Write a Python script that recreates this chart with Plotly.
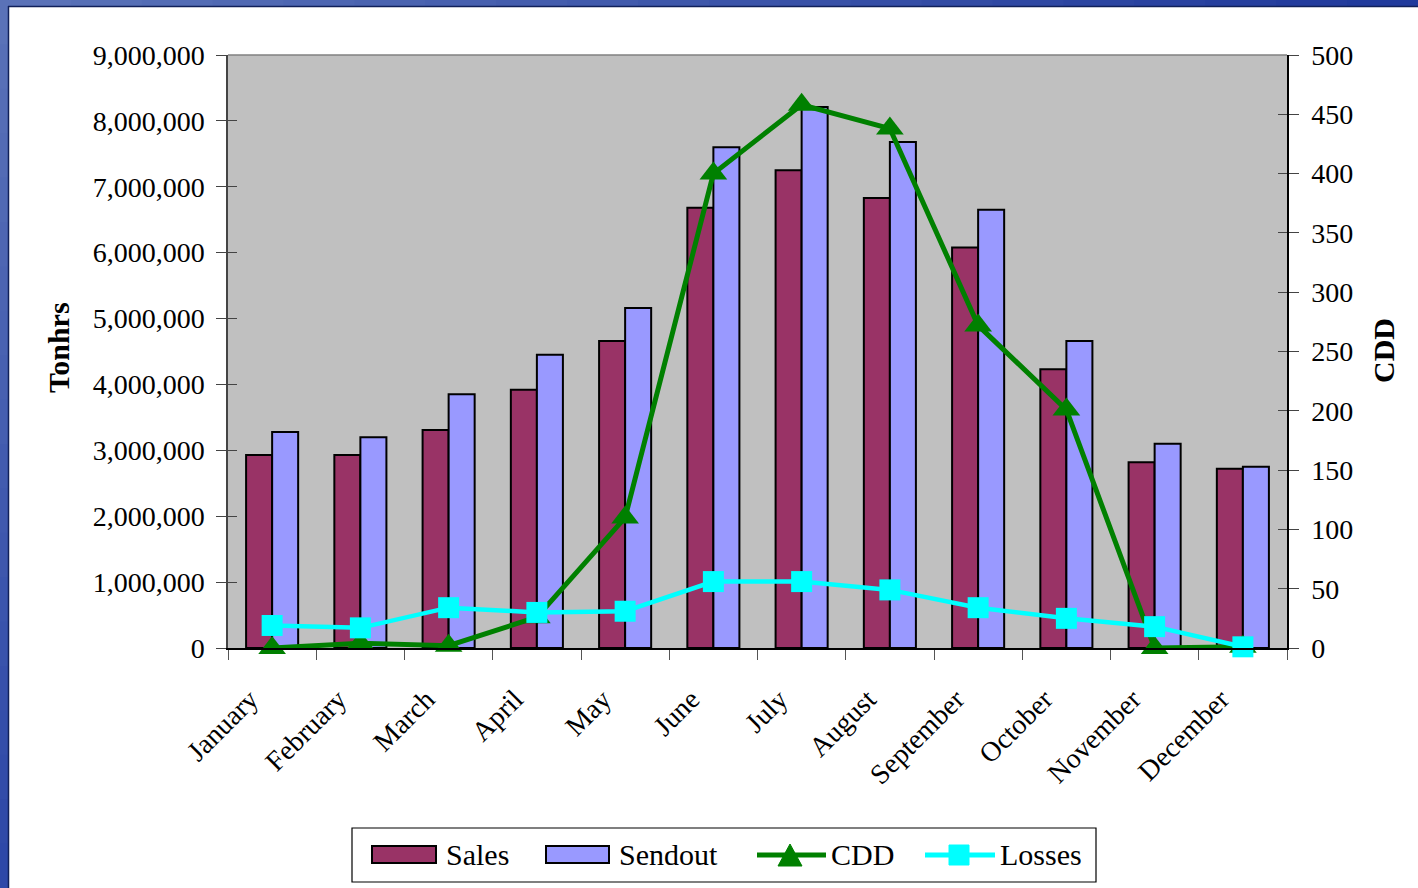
import plotly.graph_objects as go

months = ["January", "February", "March", "April", "May", "June", "July",
          "August", "September", "October", "November", "December"]
sales = [2930000, 2930000, 3310000, 3920000, 4660000, 6680000, 7250000,
         6830000, 6080000, 4230000, 2820000, 2720000]
sendout = [3280000, 3200000, 3850000, 4450000, 5160000, 7600000, 8210000,
           7680000, 6650000, 4660000, 3100000, 2750000]
cdd = [0, 4, 2, 26, 110, 400, 458, 438, 272, 201, 0, 1]
losses = [19, 17, 34, 30, 31, 56, 56, 49, 34, 25, 18, 1]

SALES_C, SEND_C, CDD_C, LOSS_C = "#993366", "#9999ff", "#008000", "#00ffff"

W, H = 1418, 888
L, R, T, B = 228, 1287, 55, 648
pw, ph = R - L, B - T

def px(x):
    return (x - L) / pw

def py(y):
    return (B - y) / ph

FONT = "Liberation Serif, Times New Roman, serif"

fig = go.Figure()
fig.add_trace(go.Bar(x=months, y=sales, name="Sales",
                     marker=dict(color=SALES_C, line=dict(color="black", width=2))))
fig.add_trace(go.Bar(x=months, y=sendout, name="Sendout",
                     marker=dict(color=SEND_C, line=dict(color="black", width=2))))
fig.add_trace(go.Scatter(x=months, y=cdd, name="CDD", yaxis="y2", mode="lines+markers",
                         cliponaxis=False,
                         line=dict(color=CDD_C, width=5),
                         marker=dict(symbol="triangle-up", size=24, color=CDD_C)))
fig.add_trace(go.Scatter(x=months, y=losses, name="Losses", yaxis="y2", mode="lines+markers",
                         cliponaxis=False,
                         line=dict(color=LOSS_C, width=4.5),
                         marker=dict(symbol="square", size=21, color=LOSS_C)))
# empty helper traces so the inner tick axes get drawn
fig.add_trace(go.Scatter(x=[months[0]], y=[None], yaxis="y3", showlegend=False, hoverinfo="skip"))
fig.add_trace(go.Scatter(x=[months[0]], y=[None], yaxis="y4", showlegend=False, hoverinfo="skip"))

shapes = []
n = 20
for i in range(n):
    x0 = i * W / n
    x1 = (i + 1) * W / n + 1
    t = i / (n - 1)
    r = int(0x5a + (0x20 - 0x5a) * t)
    g = int(0x72 + (0x3a - 0x72) * t)
    b = int(0xb8 + (0x9c - 0xb8) * t)
    shapes.append(dict(type="rect", xref="paper", yref="paper",
                       x0=px(x0), x1=px(x1), y0=py(6), y1=py(-2),
                       fillcolor=f"rgb({r},{g},{b})", line=dict(width=0), layer="above"))
for i in range(n):
    y0 = i * H / n
    y1 = (i + 1) * H / n + 1
    t = i / (n - 1)
    r = int(0x5a + (0x2e - 0x5a) * t)
    g = int(0x72 + (0x48 - 0x72) * t)
    b = int(0xb8 + (0xa8 - 0xb8) * t)
    shapes.append(dict(type="rect", xref="paper", yref="paper",
                       x0=px(-2), x1=px(8), y0=py(y1), y1=py(y0),
                       fillcolor=f"rgb({r},{g},{b})", line=dict(width=0), layer="above"))
shapes.append(dict(type="line", xref="paper", yref="paper", x0=px(8), x1=px(W + 2),
                   y0=py(6.5), y1=py(6.5), line=dict(color="#10205a", width=1.5), layer="above"))
shapes.append(dict(type="line", xref="paper", yref="paper", x0=px(8.5), x1=px(8.5),
                   y0=py(6), y1=py(H + 2), line=dict(color="#10205a", width=1.5), layer="above"))
shapes.append(dict(type="line", xref="paper", yref="paper", x0=0, x1=1, y0=1, y1=1,
                   line=dict(color="#808080", width=1.5), layer="above"))

# custom legend
LY = 855
shapes.append(dict(type="rect", xref="paper", yref="paper", x0=px(352), x1=px(1096),
                   y0=py(882), y1=py(828), line=dict(color="black", width=1.2),
                   fillcolor="white"))
shapes.append(dict(type="rect", xref="paper", yref="paper", x0=px(372), x1=px(436),
                   y0=py(863), y1=py(846), fillcolor=SALES_C, line=dict(color="black", width=2)))
shapes.append(dict(type="rect", xref="paper", yref="paper", x0=px(546), x1=px(609),
                   y0=py(863), y1=py(846), fillcolor=SEND_C, line=dict(color="black", width=2)))
shapes.append(dict(type="line", xref="paper", yref="paper", x0=px(757), x1=px(826),
                   y0=py(LY), y1=py(LY), line=dict(color=CDD_C, width=5)))
tri = "M {},{} L {},{} L {},{} Z".format(px(778), py(866), px(802), py(866), px(790), py(844))
shapes.append(dict(type="path", xref="paper", yref="paper", path=tri,
                   fillcolor=CDD_C, line=dict(color=CDD_C, width=1)))
shapes.append(dict(type="line", xref="paper", yref="paper", x0=px(925), x1=px(995),
                   y0=py(LY), y1=py(LY), line=dict(color=LOSS_C, width=5)))
shapes.append(dict(type="rect", xref="paper", yref="paper", x0=px(949), x1=px(969),
                   y0=py(865), y1=py(845), fillcolor=LOSS_C, line=dict(color=LOSS_C, width=1)))

annotations = [
    dict(text="<b>Tonhrs</b>", x=px(58), y=py(348), xref="paper", yref="paper",
         xanchor="center", yanchor="middle",
         textangle=-90, showarrow=False, font=dict(family=FONT, size=30, color="black")),
    dict(text="<b>CDD</b>", x=px(1383), y=py(351), xref="paper", yref="paper",
         xanchor="center", yanchor="middle",
         textangle=-90, showarrow=False, font=dict(family=FONT, size=30, color="black")),
]
for label, xl in [("Sales", 444), ("Sendout", 617), ("CDD", 829), ("Losses", 998)]:
    annotations.append(dict(text=label, x=px(xl), y=py(LY), xref="paper", yref="paper",
                            xanchor="left", yanchor="middle", showarrow=False,
                            font=dict(family=FONT, size=30, color="black")))

fig.update_layout(
    width=W, height=H,
    margin=dict(l=L, r=W - R, t=T, b=H - B),
    paper_bgcolor="white", plot_bgcolor="#c0c0c0",
    font=dict(family=FONT, size=28, color="black"),
    barmode="group", bargap=0.41, bargroupgap=0,
    showlegend=False,
    xaxis=dict(type="category", range=[-0.5, 11.5], tickangle=-45, showline=True,
               linecolor="black", linewidth=1.5,
               ticks="outside", ticklen=10, tickcolor="#555", tickson="boundaries",
               ticklabelshift=-22, ticklabelstandoff=22,
               tickfont=dict(family=FONT, size=28), showgrid=False, zeroline=False),
    yaxis=dict(range=[0, 9000000], dtick=1000000, tickformat=",", showline=True,
               linecolor="#444", linewidth=1.5, ticks="outside", ticklen=10, tickcolor="#444",
               ticklabelstandoff=6,
               showgrid=False, zeroline=False, tickfont=dict(family=FONT, size=28)),
    yaxis2=dict(range=[0, 500], dtick=50, overlaying="y", side="right", showline=True,
                linecolor="black", linewidth=1.5, ticks="outside", ticklen=10, tickcolor="#444",
                ticklabelstandoff=7,
                showgrid=False, zeroline=False, tickfont=dict(family=FONT, size=28)),
    yaxis3=dict(range=[0, 9000000], dtick=1000000, overlaying="y", side="left",
                ticks="inside", ticklen=9, tickcolor="#444", showticklabels=False,
                showline=False, showgrid=False, zeroline=False),
    yaxis4=dict(range=[0, 500], dtick=50, overlaying="y", side="right",
                ticks="inside", ticklen=9, tickcolor="#444", showticklabels=False,
                showline=False, showgrid=False, zeroline=False),
    shapes=shapes,
    annotations=annotations,
)

fig.write_html("out.html", config={"displayModeBar": False},
               post_script="document.body.style.margin='0px';document.body.style.overflow='hidden';")
